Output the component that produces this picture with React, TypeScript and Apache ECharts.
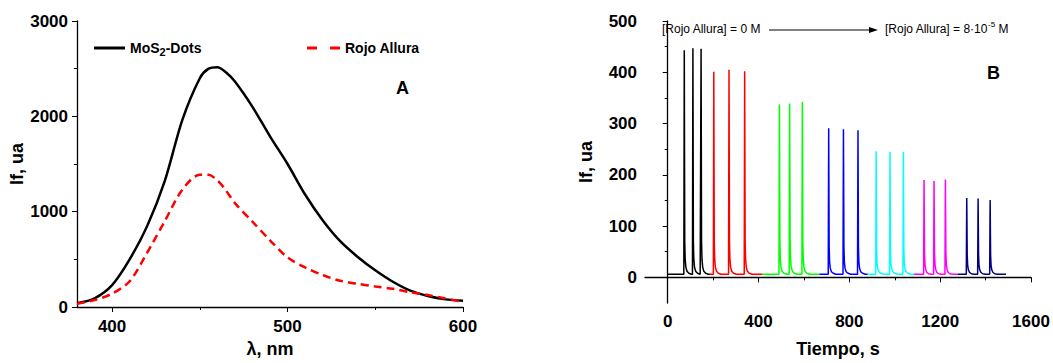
import React, { useEffect, useRef } from "react";
import * as echarts from "echarts";

// Panel A
const wavelength = [380, 390, 400, 410, 420, 430, 440, 450, 455, 460, 465, 470, 480, 490, 500, 510, 520, 530, 540, 550, 560, 570, 580, 590, 600];
const mosDots = [39, 91, 230, 500, 850, 1320, 1960, 2400, 2500, 2515, 2460, 2365, 2100, 1790, 1500, 1180, 910, 690, 525, 385, 265, 172, 115, 80, 65];
const rojoAllura = [34, 73, 140, 270, 570, 900, 1230, 1388, 1386, 1330, 1220, 1090, 895, 700, 520, 415, 335, 275, 243, 216, 191, 155, 126, 90, 55];

// Panel A ticks
const aXLabels = [400, 500, 600];
const aXMinor = [450, 550];
const aYLabels = [0, 1000, 2000, 3000];
const aYMinor = [500, 1500, 2500];

// Panel B ticks
const bXLabels = [0, 400, 800, 1200, 1600];
const bXMinor = [200, 600, 1000, 1400];
const bYLabels = [0, 100, 200, 300, 400, 500];
const bYMinor = [50, 150, 250, 350, 450];

// Panel B (time, s ; If, ua)
const segBlack = [[0,6],[71,6],[73,443],[75,70],[77,35],[80,20],[85,12],[93,8],[105,6],[109,6],[111,447],[113,70],[115,35],[118,20],[123,12],[131,8],[143,6],[145,6],[147,446],[149,70],[151,35],[154,20],[159,12],[167,8],[179,6],[186,6]];
const segRed = [[186,6],[201,6],[203,401],[205,70],[207,35],[210,20],[215,12],[223,8],[235,6],[268,6],[270,405],[272,70],[274,35],[277,20],[282,12],[290,8],[302,6],[337,6],[339,402],[341,70],[343,35],[346,20],[351,12],[359,8],[371,6],[418,6]];
const segGreen = [[418,6],[490,6],[492,337],[494,70],[496,35],[499,20],[504,12],[512,8],[524,6],[535,6],[537,339],[539,70],[541,35],[544,20],[549,12],[557,8],[569,6],[591,6],[593,342],[595,70],[597,35],[600,20],[605,12],[613,8],[625,6],[668,6]];
const segBlue = [[668,6],[707,6],[709,291],[711,60],[713,30],[716,18],[721,11],[729,8],[741,6],[772,6],[774,289],[776,60],[778,30],[781,18],[786,11],[794,8],[806,6],[836,6],[838,287],[840,60],[842,30],[845,18],[850,11],[858,8],[870,6],[881,6]];
const segCyan = [[881,6],[916,6],[918,246],[920,55],[922,28],[925,17],[930,11],[938,8],[950,6],[977,6],[979,245],[981,55],[983,28],[986,17],[991,11],[999,8],[1011,6],[1036,6],[1038,245],[1040,55],[1042,28],[1045,17],[1050,11],[1058,8],[1070,6],[1085,6]];
const segMagenta = [[1085,6],[1127,6],[1129,190],[1131,50],[1133,26],[1136,16],[1141,10],[1149,7],[1161,6],[1171,6],[1173,188],[1175,50],[1177,26],[1180,16],[1185,10],[1193,7],[1205,6],[1221,6],[1223,191],[1225,50],[1227,26],[1230,16],[1235,10],[1243,7],[1255,6],[1277,6]];
const segNavy = [[1277,6],[1315,6],[1317,155],[1319,45],[1321,24],[1324,15],[1329,10],[1337,7],[1349,6],[1365,6],[1367,154],[1369,45],[1371,24],[1374,15],[1379,10],[1387,7],[1399,6],[1418,6],[1420,151],[1422,45],[1424,24],[1427,15],[1432,10],[1440,7],[1452,6],[1490,6]];

const segments = [
  { data: segBlack, color: "#000000" },
  { data: segRed, color: "#ff0000" },
  { data: segGreen, color: "#00ff00" },
  { data: segBlue, color: "#0000ff" },
  { data: segCyan, color: "#00ffff" },
  { data: segMagenta, color: "#ff00ff" },
  { data: segNavy, color: "#000080" },
];

const FONT = "Liberation Sans, Arial, sans-serif";

export default function App() {
  const ref = useRef<HTMLDivElement>(null);
  useEffect(() => {
    if (!ref.current) return;
    const chart = echarts.init(ref.current, undefined, { renderer: "svg" });
    const axisLine = { show: true, lineStyle: { color: "#000", width: 1.3 } };
    const labelBase = { color: "#000", fontSize: 17, fontWeight: "bold", fontFamily: FONT, formatter: (v: number) => String(v) };
    const nameStyle = { color: "#000", fontSize: 18, fontWeight: "bold", fontFamily: FONT };
    const tickStyle = { color: "#000", width: 1 };

    const mainAxis = (grid: number, min: number, max: number, labels: number[], margin: number, name: string, nameGap: number) => ({
      type: "value", gridIndex: grid, min, max,
      axisLine, splitLine: { show: false },
      axisTick: { show: true, length: 5, lineStyle: tickStyle, customValues: labels },
      axisLabel: { ...labelBase, margin, customValues: labels },
      name, nameLocation: "middle", nameGap, nameTextStyle: nameStyle,
    });
    const minorAxis = (grid: number, min: number, max: number, values: number[]) => ({
      type: "value", gridIndex: grid, min, max,
      axisLine: { show: false }, splitLine: { show: false },
      axisTick: { show: true, length: 3, lineStyle: tickStyle, customValues: values },
      axisLabel: { show: false, customValues: values },
    });

    const option: any = {
      animation: false,
      backgroundColor: "#fff",
      textStyle: { fontFamily: FONT },
      grid: [
        { left: 77, top: 21, width: 386, height: 286 },
        { left: 645, top: 21, width: 386, height: 286 },
      ],
      xAxis: [
        mainAxis(0, 380, 600, aXLabels, 11, "λ, nm", 31),
        mainAxis(1, -100, 1600, bXLabels, 10, "Tiempo, s", 37),
        { ...minorAxis(0, 380, 600, aXMinor), position: "bottom" },
        { ...minorAxis(1, -100, 1600, bXMinor), position: "bottom" },
      ],
      yAxis: [
        mainAxis(0, 0, 3000, aYLabels, 9, "If, ua", 50),
        mainAxis(1, -50, 500, bYLabels, 8, "If, ua", 50),
        { ...minorAxis(0, 0, 3000, aYMinor), position: "left" },
        { ...minorAxis(1, -50, 500, bYMinor), position: "left" },
      ],
      legend: [
        {
          data: ["MoS2-Dots"], left: 89, top: 36, itemWidth: 31, itemHeight: 3, icon: "rect", itemGap: 4,
          formatter: () => "{a|MoS}{s|2}{a|-Dots}",
          textStyle: {
            rich: {
              a: { fontSize: 14, fontWeight: "bold", fontFamily: FONT, color: "#000" },
              s: { fontSize: 11, fontWeight: "bold", fontFamily: FONT, color: "#000", padding: [7, 0, 0, 0] },
            },
          },
        },
        {
          data: ["Rojo Allura"], left: 302, top: 36, itemWidth: 33, itemHeight: 3,
          icon: "path://M0,0H10V3H0Z M23,0H33V3H23Z",
          textStyle: { fontSize: 14, fontWeight: "bold", fontFamily: FONT, color: "#000" },
        },
      ],
      series: [
        {
          name: "MoS2-Dots", type: "line", xAxisIndex: 0, yAxisIndex: 0, smooth: 0.3,
          showSymbol: false, symbol: "none",
          data: wavelength.map((w, i) => [w, mosDots[i]]),
          lineStyle: { color: "#000", width: 2.5 }, itemStyle: { color: "#000" },
        },
        {
          name: "Rojo Allura", type: "line", xAxisIndex: 0, yAxisIndex: 0, smooth: 0.3,
          showSymbol: false, symbol: "none",
          data: wavelength.map((w, i) => [w, rojoAllura[i]]),
          lineStyle: { color: "#ff0000", width: 2.5, type: [8, 5] }, itemStyle: { color: "#ff0000" },
        },
        ...segments.map((s, i) => ({
          name: "seg" + i, type: "line", xAxisIndex: 1, yAxisIndex: 1,
          showSymbol: false, symbol: "none", data: s.data,
          lineStyle: { color: s.color, width: 1.5 }, itemStyle: { color: s.color },
        })),
      ],
      graphic: [
        { type: "text", left: 396, top: 79, style: { text: "A", fontSize: 18, fontWeight: "bold", fontFamily: FONT, fill: "#000" } },
        { type: "text", left: 987, top: 64, style: { text: "B", fontSize: 18, fontWeight: "bold", fontFamily: FONT, fill: "#000" } },
        { type: "text", left: 662, top: 23, style: { text: "[Rojo Allura] = 0 M", fontSize: 12, fontFamily: FONT, fill: "#000" } },
        { type: "line", shape: { x1: 769, y1: 30, x2: 872, y2: 30 }, style: { stroke: "#000", lineWidth: 1 } },
        { type: "polygon", shape: { points: [[878, 30], [869, 27], [869, 33]] }, style: { fill: "#000" } },
        {
          type: "text", left: 885, top: 20,
          style: {
            text: "{n|[Rojo Allura] = 8·10}{p|-5}{n| M}",
            rich: {
              n: { fontSize: 12, fontFamily: FONT, fill: "#000", color: "#000", padding: [4, 0, 0, 0] },
              p: { fontSize: 8, fontFamily: FONT, fill: "#000", color: "#000", padding: [0, 0, 6, 0] },
            },
          },
        },
      ],
    };
    chart.setOption(option);
    return () => chart.dispose();
  }, []);
  return <div ref={ref} style={{ position: "fixed", left: 0, top: 0, width: 1053, height: 363, background: "#fff" }} />;
}
